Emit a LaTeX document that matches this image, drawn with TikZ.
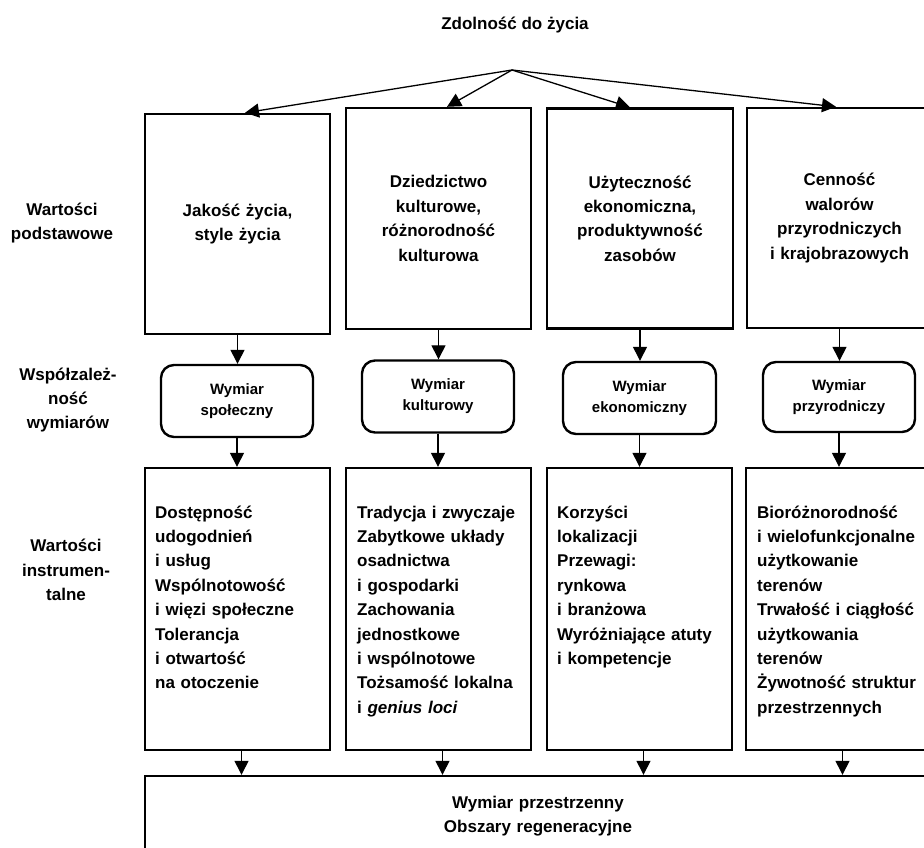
\documentclass[tikz,border=0pt]{standalone}
\usepackage{fontspec}
\setmainfont{Liberation Sans}
\usetikzlibrary{calc, positioning, arrows.meta}

\begin{document}
\begin{tikzpicture}[x=1pt, y=-1pt, >={Triangle[length=14pt, width=14pt]}]
\tikzstyle{big font}=[font=\fontsize{17}{24.4}\selectfont\bfseries]
\tikzstyle{small font}=[font=\fontsize{15}{21}\selectfont\bfseries]
\tikzstyle{value box}=[draw, rectangle, line width=2.4pt, inner sep=0pt, minimum width=185pt, minimum height=220pt, text width=175pt, align=center, big font]
\tikzstyle{dim box}=[draw, rectangle, rounded corners=13pt, line width=2.4pt, minimum width=152pt, minimum height=72pt, align=center, small font]
\tikzstyle{inst box}=[draw, rectangle, line width=2.4pt, minimum width=185pt, minimum height=282pt]
\tikzstyle{inst text}=[anchor=base west, inner sep=0pt, text width=178pt, align=left, big font]
\tikzstyle{side label}=[align=center, big font]
\tikzstyle{arr}=[->, line width=1.3pt]

\clip (0,0) rectangle (924,847);

% title and the four basic values
\node[big font] (title) at (515,25) {Zdolność do życia};
\coordinate (apex) at (512,70);

\node[value box] (qualbox) at (237.5,224) {Jakość życia,\\style życia};
\node[value box, minimum height=221pt] (heritbox) at (438.5,218.5) {Dziedzictwo\\kulturowe,\\różnorodność\\kulturowa};
\node[value box, minimum width=186pt] (utilbox) at (640,218.5) {Użyteczność\\ekonomiczna,\\produktywność\\zasobów};
\node[value box] (valbox) at (839.5,218) {Cenność\\walorów\\przyrodniczych\\i krajobrazowych};

\draw[arr] (apex) -- ([xshift=7.5pt]qualbox.north);
\draw[arr] (apex) -- ([xshift=8.5pt]heritbox.north);
\draw[arr] (apex) -- ([xshift=-10pt]utilbox.north);
\draw[arr] (apex) -- ([xshift=-3.5pt]valbox.north);

% dimensions
\node[dim box] (dimsoc) at (237,401) {Wymiar\\społeczny};
\node[dim box] (dimcult) at (438,396.5) {Wymiar\\kulturowy};
\node[dim box, minimum width=153pt] (dimecon) at (639.5,398) {Wymiar\\ekonomiczny};
\node[dim box, minimum height=70pt] (dimnat) at (839,397) {Wymiar\\przyrodniczy};

\draw[arr] (qualbox.south) -- (qualbox.south |- dimsoc.north);
\draw[arr] (heritbox.south) -- (heritbox.south |- dimcult.north);
\draw[arr] (utilbox.south) -- (utilbox.south |- dimecon.north);
\draw[arr] (valbox.south) -- (valbox.south |- dimnat.north);

% instrumental values
\node[inst box] (instsoc) at (237.5,609) {};
\node[inst box] (instcult) at (438.5,609) {};
\node[inst box] (instecon) at (639.5,609) {};
\node[inst box] (instnat) at (838.5,609) {};

\node[inst text] (instsoctxt) at (155,518) {Dostępność\\udogodnień\\i usług\\Wspólnotowość\\i więzi społeczne\\Tolerancja\\i otwartość\\na otoczenie};
\node[inst text] (instculttxt) at (357,518) {Tradycja i zwyczaje\\Zabytkowe układy\\osadnictwa\\i gospodarki\\Zachowania\\jednostkowe\\i wspólnotowe\\Tożsamość lokalna\\i \textit{genius loci}};
\node[inst text] (instecontxt) at (557,518) {Korzyści\\lokalizacji\\Przewagi:\\rynkowa\\i branżowa\\Wyróżniające atuty\\i kompetencje};
\node[inst text] (instnattxt) at (757,518) {Bioróżnorodność\\i wielofunkcjonalne\\użytkowanie\\terenów\\Trwałość i ciągłość\\użytkowania\\terenów\\Żywotność struktur\\przestrzennych};

\draw[arr] (dimsoc.south) -- (dimsoc.south |- instsoc.north);
\draw[arr] (dimcult.south) -- (dimcult.south |- instcult.north);
\draw[arr] (dimecon.south) -- (dimecon.south |- instecon.north);
\draw[arr] (dimnat.south) -- (dimnat.south |- instnat.north);

% spatial dimension
\node[draw, rectangle, line width=2.4pt, minimum width=786pt, minimum height=104pt] (spatial) at (538,828) {};
\node[anchor=base, inner sep=0pt, text width=300pt, align=center, big font] (spatialtxt) at (538,808) {Wymiar przestrzenny\\Obszary regeneracyjne};

\draw[arr] ([xshift=4pt]instsoc.south) -- ([xshift=4pt]instsoc.south |- spatial.north);
\draw[arr] ([xshift=4pt]instcult.south) -- ([xshift=4pt]instcult.south |- spatial.north);
\draw[arr] ([xshift=4pt]instecon.south) -- ([xshift=4pt]instecon.south |- spatial.north);
\draw[arr] ([xshift=4pt]instnat.south) -- ([xshift=4pt]instnat.south |- spatial.north);

% side labels
\node[side label] (lblbasic) at (62,223) {Wartości\\podstawowe};
\node[side label] (lbldep) at (68,400) {Współzależ-\\ność\\wymiarów};
\node[side label] (lblinst) at (66,570) {Wartości\\instrumen-\\talne};
\end{tikzpicture}
\end{document}
